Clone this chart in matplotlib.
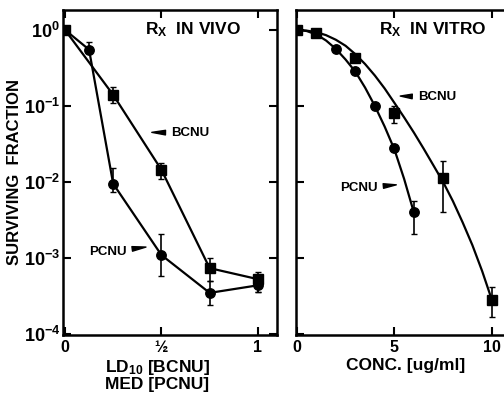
import numpy as np
import matplotlib
matplotlib.use('Agg')
import matplotlib.pyplot as plt

plt.rcParams['font.family'] = ['Liberation Sans', 'DejaVu Sans']
plt.rcParams['font.weight'] = 'bold'
plt.rcParams['axes.labelweight'] = 'bold'
plt.rcParams['mathtext.fontset'] = 'custom'
plt.rcParams['mathtext.rm'] = 'Liberation Sans:bold'
plt.rcParams['mathtext.it'] = 'Liberation Sans:bold'
plt.rcParams['mathtext.bf'] = 'Liberation Sans:bold'

# in vivo (fraction of LD10 / MED)
vivo_pcnu_x = [0, 0.125, 0.25, 0.5, 0.75, 1.0]
vivo_pcnu_y = [1.0, 0.55, 0.0095, 0.0011, 3.5e-4, 4.4e-4]
vivo_pcnu_lo = [1.0, 0.55, 0.0075, 5.8e-4, 2.4e-4, 3.6e-4]
vivo_pcnu_hi = [1.0, 0.70, 0.0152, 2.1e-3, 5.0e-4, 5.5e-4]

vivo_bcnu_x = [0, 0.25, 0.5, 0.75, 1.0]
vivo_bcnu_y = [1.0, 0.14, 0.0145, 7.4e-4, 5.3e-4]
vivo_bcnu_lo = [1.0, 0.11, 0.011, 5.0e-4, 3.6e-4]
vivo_bcnu_hi = [1.0, 0.18, 0.018, 1.0e-3, 6.5e-4]

# in vitro (ug/ml)
vitro_pcnu_x = [0, 2, 3, 4, 5, 6]
vitro_pcnu_y = [1.0, 0.56, 0.29, 0.10, 0.028, 0.0040]
vitro_pcnu_lo = [1.0, 0.56, 0.29, 0.10, 0.028, 0.0021]
vitro_pcnu_hi = [1.0, 0.56, 0.29, 0.10, 0.028, 0.0057]

vitro_bcnu_x = [0, 1, 3, 5, 7.5, 10]
vitro_bcnu_y = [1.0, 0.91, 0.43, 0.081, 0.0112, 2.8e-4]
vitro_bcnu_lo = [1.0, 0.91, 0.43, 0.060, 0.0041, 1.7e-4]
vitro_bcnu_hi = [1.0, 0.91, 0.43, 0.100, 0.019, 4.2e-4]

# fitted curves
fit_bcnu_x = [0, 0.5, 1, 1.5, 2, 2.5, 3, 3.5, 4, 4.5, 5, 5.5, 6, 6.5, 7, 7.5,
              8, 8.5, 9, 9.5, 10]
fit_bcnu_y = [1.0, 0.977, 0.933, 0.851, 0.741, 0.617, 0.479, 0.355, 0.251, 0.170,
              0.110, 0.0708, 0.0447, 0.0275, 0.0166, 0.0100, 0.00562, 0.00295,
              0.00148, 0.000676, 0.000282]
fit_pcnu_x = [0, 0.5, 1, 1.5, 2, 2.5, 3, 3.5, 4, 4.5, 5, 5.5, 6]
fit_pcnu_y = [1.0, 0.966, 0.871, 0.724, 0.562, 0.407, 0.282, 0.174, 0.100, 0.0537,
              0.0269, 0.0110, 0.00398]

ytick_vals = [1e-4, 1e-3, 1e-2, 1e-1, 1e0]
ytick_labels = [r'$10^{-4}$', r'$10^{-3}$', r'$10^{-2}$', r'$10^{-1}$', r'$10^{0}$']

fig = plt.figure(figsize=(5.04, 3.95), dpi=100)
ax1 = fig.add_axes([0.125, 0.152, 0.425, 0.823])
ax2 = fig.add_axes([0.587, 0.152, 0.42, 0.823])

lw = 1.6
ms = 6.8


def errs(y, lo, hi):
    return [np.array(y) - np.array(lo), np.array(hi) - np.array(y)]


# left panel
ax1.plot(vivo_pcnu_x, vivo_pcnu_y, '-', color='k', lw=lw)
ax1.plot(vivo_bcnu_x, vivo_bcnu_y, '-', color='k', lw=lw)
ax1.errorbar(vivo_pcnu_x, vivo_pcnu_y, yerr=errs(vivo_pcnu_y, vivo_pcnu_lo, vivo_pcnu_hi),
             fmt='o', color='k', ms=ms, elinewidth=1.2, capsize=2)
ax1.errorbar(vivo_bcnu_x, vivo_bcnu_y, yerr=errs(vivo_bcnu_y, vivo_bcnu_lo, vivo_bcnu_hi),
             fmt='s', color='k', ms=ms, elinewidth=1.2, capsize=2)

# right panel
ax2.plot(fit_pcnu_x, fit_pcnu_y, '-', color='k', lw=lw)
ax2.plot(fit_bcnu_x, fit_bcnu_y, '-', color='k', lw=lw)
ax2.errorbar(vitro_pcnu_x, vitro_pcnu_y, yerr=errs(vitro_pcnu_y, vitro_pcnu_lo, vitro_pcnu_hi),
             fmt='o', color='k', ms=ms, elinewidth=1.2, capsize=2)
ax2.errorbar(vitro_bcnu_x, vitro_bcnu_y, yerr=errs(vitro_bcnu_y, vitro_bcnu_lo, vitro_bcnu_hi),
             fmt='s', color='k', ms=ms, elinewidth=1.2, capsize=2)

for ax in (ax1, ax2):
    ax.set_yscale('log')
    ax.set_ylim(0.98e-4, 1.83)
    ax.set_yticks(ytick_vals)
    ax.yaxis.set_minor_locator(matplotlib.ticker.NullLocator())
    ax.tick_params(direction='in', length=6, width=1.5, top=True, right=True)
    ax.tick_params(axis='y', labelsize=13)
    ax.tick_params(axis='x', labelsize=11.5)
    for s in ax.spines.values():
        s.set_linewidth(1.8)

ax1.set_yticklabels(ytick_labels)
ax1.set_xlim(-0.01, 1.1)
ax1.set_xticks([0, 0.5, 1])
ax1.set_xticklabels(['0', '½', '1'])
ax1.tick_params(axis='y', pad=2)

ax2.set_yticklabels([])
ax2.set_xlim(-0.05, 10.8)
ax2.set_xticks([0, 5, 10])
ax2.set_xticklabels(['0', '5', '10'])
ax2.spines['right'].set_visible(False)
ax2.tick_params(right=False)

ax1.set_ylabel('SURVIVING  FRACTION', fontsize=12, labelpad=1)
ax1.set_xlabel('LD$_{10}$ [BCNU]\nMED [PCNU]', fontsize=12.5, labelpad=4, linespacing=1.05)
ax1.xaxis.set_label_coords(0.44, -0.07, transform=ax1.transAxes)
ax1.xaxis.label.set_va('top')
ax2.set_xlabel('CONC. [ug/ml]', fontsize=12.5, labelpad=2)
ax2.xaxis.set_label_coords(0.52, -0.07, transform=ax2.transAxes)
ax2.xaxis.label.set_va('top')

ax1.text(0.665, 1.0, r'R$_{\mathbf{X}}$  IN VIVO', fontsize=12.5, ha='center', va='center')
ax2.text(6.95, 1.0, r'R$_{\mathbf{X}}$  IN VITRO', fontsize=12.5, ha='center', va='center')

wedge = dict(arrowstyle='wedge,tail_width=0.35', color='k', shrinkA=2, shrinkB=0)
ax1.annotate('BCNU', xy=(0.45, 0.045), xytext=(0.55, 0.044), fontsize=9.5,
             ha='left', va='center', arrowprops=wedge)
ax1.annotate('PCNU', xy=(0.42, 1.4e-3), xytext=(0.32, 1.2e-3), fontsize=9.5,
             ha='right', va='center', arrowprops=wedge)
ax2.annotate('BCNU', xy=(5.3, 0.135), xytext=(6.2, 0.13), fontsize=9.5,
             ha='left', va='center', arrowprops=wedge)
ax2.annotate('PCNU', xy=(5.1, 0.0092), xytext=(4.15, 0.0083), fontsize=9.5,
             ha='right', va='center', arrowprops=wedge)

fig.savefig('out.png', dpi=100)
